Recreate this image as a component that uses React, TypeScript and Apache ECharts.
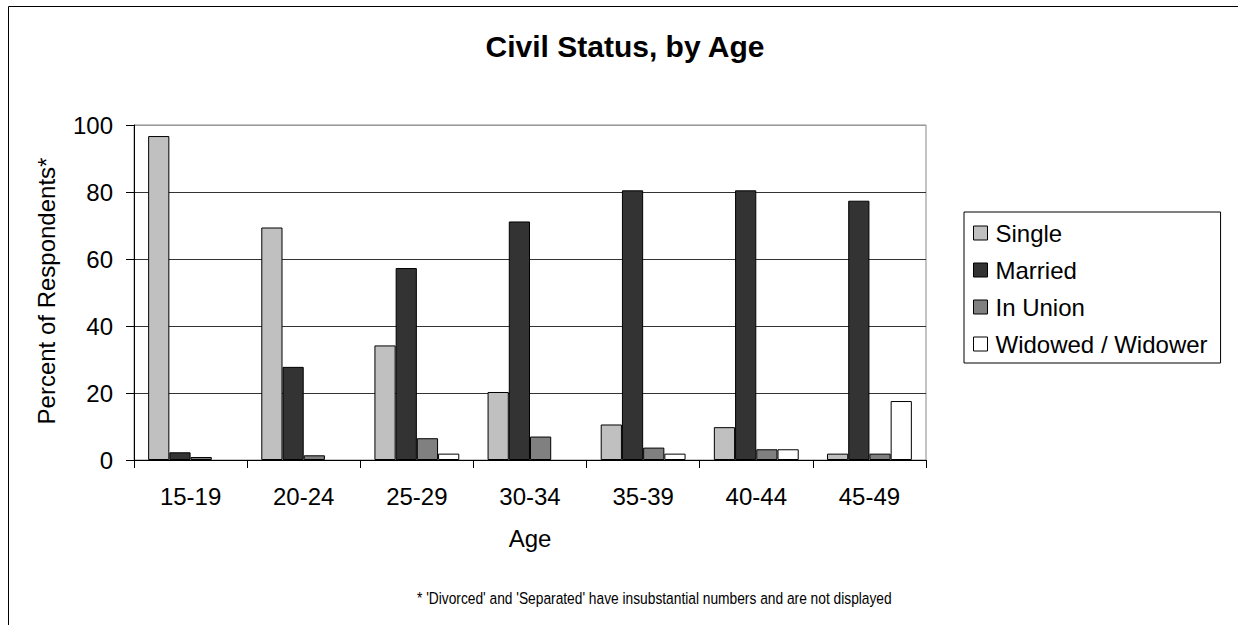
import React, { useEffect, useRef } from "react";
import * as echarts from "echarts";

const categories = ["15-19", "20-24", "25-29", "30-34", "35-39", "40-44", "45-49"];
const single = [96.7, 69.4, 34.2, 20.3, 10.6, 9.8, 1.9];
const married = [2.3, 27.8, 57.3, 71.2, 80.5, 80.5, 77.4];
const inUnion = [0.9, 1.4, 6.5, 7.0, 3.7, 3.2, 1.9];
const widowed = [0, 0, 1.9, 0, 1.9, 3.2, 17.6];
const seriesNames = ["Single", "Married", "In Union", "Widowed / Widower"];
const seriesColors = ["#C0C0C0", "#333333", "#808080", "#FFFFFF"];
const yTicks = { min: 0, max: 100, interval: 20 };

const FONT = "'Liberation Sans', Arial, sans-serif";

export default function App() {
  const ref = useRef<HTMLDivElement>(null);
  useEffect(() => {
    if (!ref.current) return;
    const chart = echarts.init(ref.current, undefined, { renderer: "svg" });
    const values = [single, married, inUnion, widowed];
    chart.setOption({
      animation: false,
      backgroundColor: "#fff",
      textStyle: { fontFamily: FONT },
      grid: {
        left: 134,
        top: 125,
        width: 792,
        height: 335,
        show: true,
        borderColor: "#888",
        borderWidth: 1,
        backgroundColor: "transparent",
      },
      legend: {
        orient: "vertical",
        left: 964,
        top: 212,
        padding: [9, 13, 7, 9],
        itemGap: 13,
        itemWidth: 14,
        itemHeight: 14,
        icon: "rect",
        borderColor: "#000",
        borderWidth: 1,
        backgroundColor: "#fff",
        itemStyle: { borderColor: "#000", borderWidth: 1 },
        textStyle: { fontSize: 24, color: "#000", fontFamily: FONT, padding: [0, 0, 0, 3] },
        data: seriesNames,
      },
      xAxis: {
        type: "category",
        data: categories,
        boundaryGap: true,
        axisLine: { lineStyle: { color: "#000", width: 1 } },
        axisTick: { show: true, length: 8, alignWithLabel: false, inside: false, lineStyle: { color: "#000" } },
        axisLabel: { fontSize: 24, color: "#000", margin: 24, fontFamily: FONT },
        splitLine: { show: false },
      },
      yAxis: {
        type: "value",
        min: yTicks.min,
        max: yTicks.max,
        interval: yTicks.interval,
        axisLine: { show: true, lineStyle: { color: "#000", width: 1 } },
        axisTick: { show: true, length: 8, lineStyle: { color: "#000" } },
        axisLabel: { fontSize: 24, color: "#000", margin: 21, fontFamily: FONT },
        splitLine: {
          show: true,
          lineStyle: { color: ["#000", "#333", "#333", "#333", "#333", "#999"], width: 1 },
        },
      },
      series: values.map((arr, i) => ({
        name: seriesNames[i],
        type: "bar",
        data: arr.map((v) => (v === 0 ? null : v)),
        barGap: "0%",
        barCategoryGap: "25%",
        itemStyle: { color: seriesColors[i], borderColor: "#000", borderWidth: 1 },
      })),
      graphic: [
        {
          type: "rect",
          shape: { x: 8.5, y: 6.5, width: 1250, height: 640 },
          style: { fill: "none", stroke: "#000", lineWidth: 1 },
          silent: true,
          z: -1,
        },
        {
          type: "text",
          x: 625,
          y: 46,
          style: {
            text: "Civil Status, by Age",
            font: `bold 30px ${FONT}`,
            fill: "#000",
            textAlign: "center",
            textVerticalAlign: "middle",
          },
        },
        {
          type: "text",
          x: 530,
          y: 538,
          style: {
            text: "Age",
            font: `24px ${FONT}`,
            fill: "#000",
            textAlign: "center",
            textVerticalAlign: "middle",
          },
        },
        {
          type: "text",
          x: 46,
          y: 291,
          rotation: Math.PI / 2,
          style: {
            text: "Percent of Respondents*",
            font: `24px ${FONT}`,
            fill: "#000",
            textAlign: "center",
            textVerticalAlign: "middle",
          },
        },
        {
          type: "text",
          x: 417,
          y: 598,
          scaleX: 0.81,
          style: {
            text: "* 'Divorced' and 'Separated' have insubstantial numbers and are not displayed",
            font: `17px ${FONT}`,
            fill: "#000",
            textAlign: "left",
            textVerticalAlign: "middle",
          },
        },
      ],
    });
    return () => chart.dispose();
  }, []);
  return (
    <div
      ref={ref}
      style={{ position: "absolute", left: 0, top: 0, width: 1238, height: 625 }}
    />
  );
}
